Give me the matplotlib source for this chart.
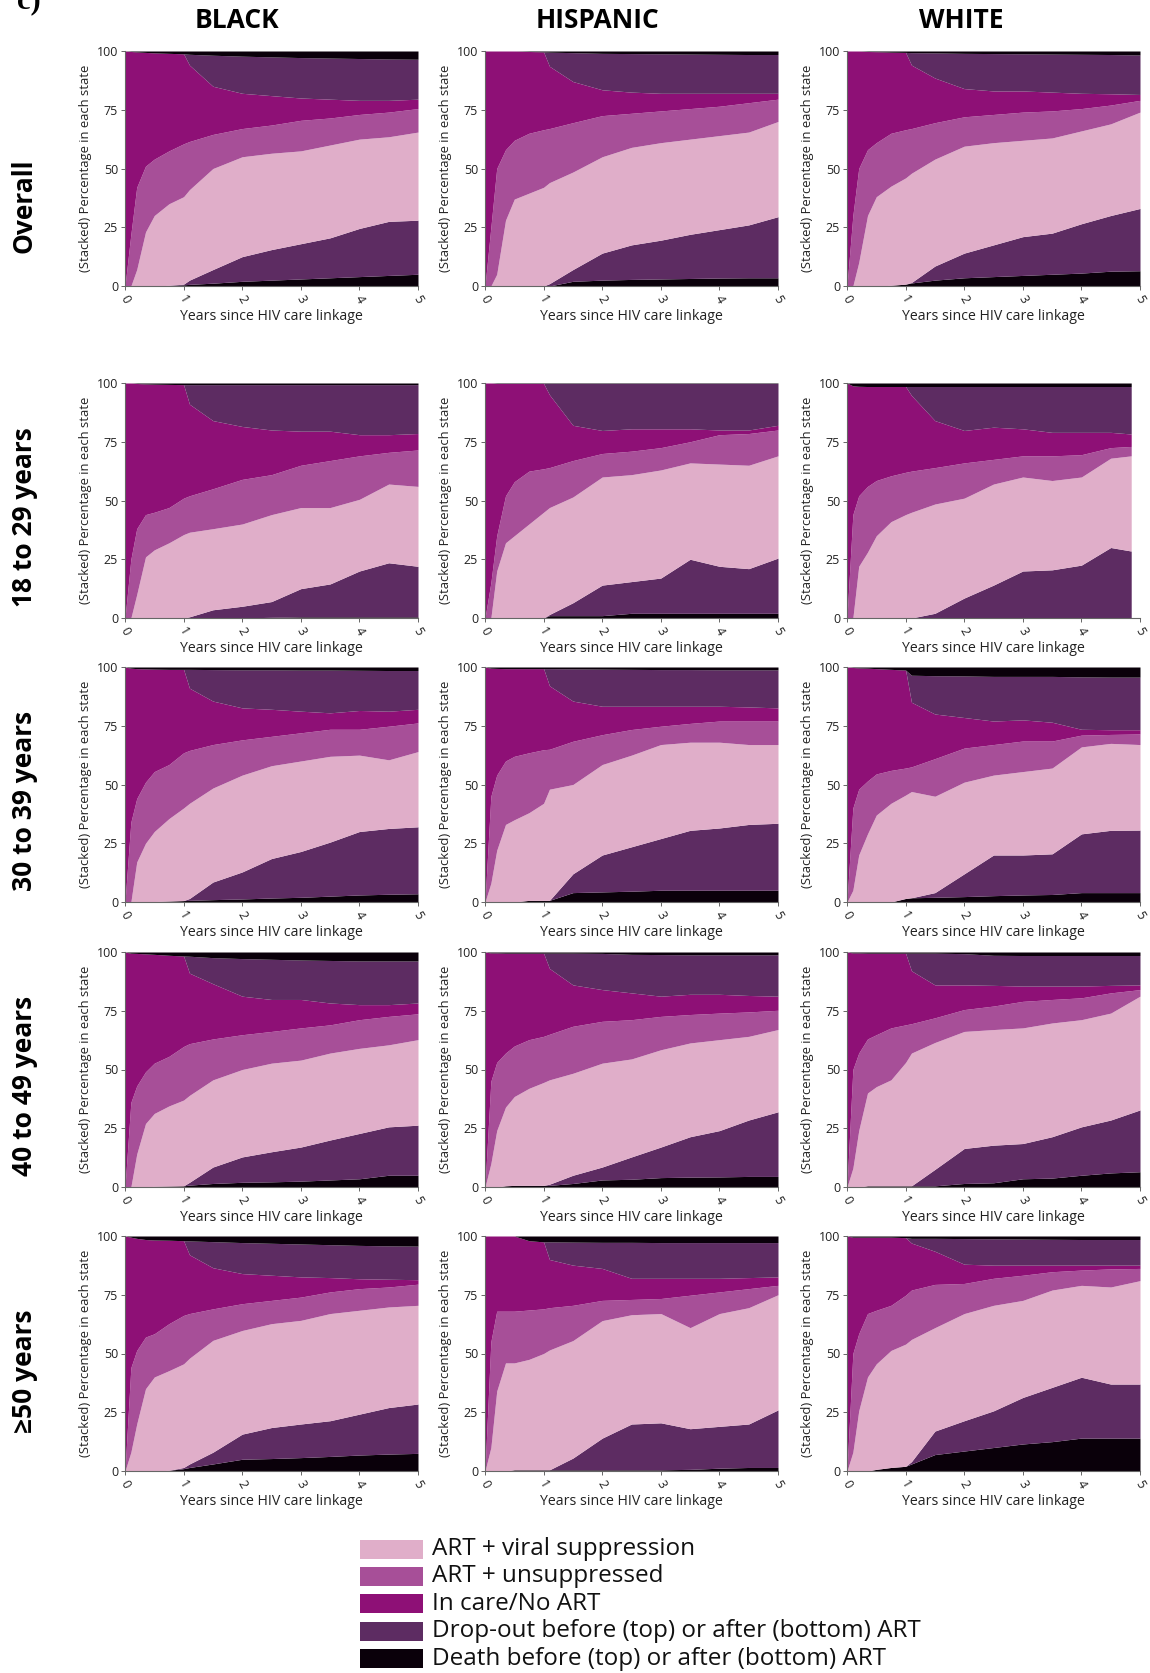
import numpy as np
import matplotlib
matplotlib.use("Agg")
import matplotlib.pyplot as plt
from matplotlib.patches import Rectangle

plt.rcParams['font.family'] = ['Open Sans', 'DejaVu Sans']

# follow-up times (years since linkage) at which the stacked shares are read
years = [0, 0.1, 0.2, 0.35, 0.5, 0.75, 1.0, 1.1, 1.5, 2.0, 2.5, 3.0, 3.5, 4.0, 4.5, 5.0]

groups = ["BLACK", "HISPANIC", "WHITE"]
ages = ["Overall", "18 to 29 years", "30 to 39 years", "40 to 49 years", "\u226550 years"]

# each list is the upper edge (stacked %) of a band, from the bottom up:
# death after ART, drop-out after ART, ART+suppressed, ART+unsuppressed,
# in care/no ART, drop-out before ART  (death before ART fills up to 100)
black_overall = dict(
    death_after=[0, 0, 0, 0, 0, 0.2, 0.5, 0.7, 1.2, 2, 2.5, 3, 3.5, 4, 4.5, 5],
    drop_after=[0, 0, 0, 0, 0, 0.3, 0.8, 2.5, 7, 12.5, 15.5, 18, 20.5, 24.5, 27.5, 28],
    art_supp=[0, 0, 7, 23, 30, 35, 38, 41, 50, 55, 56.5, 57.5, 60, 62.5, 63.5, 65.5],
    art_unsupp=[0, 22, 42, 51, 54, 57.5, 60.5, 61.5, 64.5, 67, 68.5, 70.5, 71.5, 73, 74, 75.5],
    no_art=[100, 100, 100, 100, 100, 100, 100, 94, 85, 82, 81, 80, 79.5, 79, 79, 79.5],
    drop_before=[100, 99.8, 99.6, 99.4, 99.2, 99, 98.8, 98.6, 98.2, 97.8, 97.5, 97.2, 97, 96.8, 96.6, 96.5],
)
hispanic_overall = dict(
    death_after=[0, 0, 0, 0, 0, 0, 0, 0, 2, 2.5, 2.8, 3, 3.2, 3.4, 3.5, 3.5],
    drop_after=[0, 0, 0, 0, 0, 0, 0, 1, 7, 14, 17.5, 19.5, 22, 24, 26, 29.5],
    art_supp=[0, 0, 5, 28, 37, 39.5, 42, 44, 48.5, 55, 59, 61, 62.5, 64, 65.5, 70],
    art_unsupp=[0, 25, 50, 58, 62, 65, 66.5, 67, 69.5, 72.5, 73.5, 74.5, 75.5, 76.5, 78, 79.5],
    no_art=[100, 100, 100, 100, 100, 100, 100, 93.5, 87, 83.5, 82.5, 82, 82, 82, 82, 82],
    drop_before=[100, 100, 100, 100, 100, 99.8, 99.6, 99.5, 99.3, 99, 98.9, 98.8, 98.7, 98.6, 98.5, 98.5],
)
white_overall = dict(
    death_after=[0, 0, 0, 0, 0, 0.3, 0.8, 1.3, 2.5, 3.5, 4, 4.5, 5, 5.5, 6.3, 6.5],
    drop_after=[0, 0, 0, 0, 0, 0.3, 0.8, 1.5, 8.5, 14, 17.5, 21, 22.5, 26.5, 30, 33],
    art_supp=[0, 0, 10, 30, 38, 42.5, 46, 48, 54, 59.5, 61, 62, 63, 66, 69, 74],
    art_unsupp=[0, 30, 50, 58, 61, 65, 66.5, 67, 69.5, 72, 73, 74, 74.5, 75.5, 77, 79],
    no_art=[100, 100, 100, 100, 100, 100, 100, 94, 88.5, 84, 83, 83, 82.5, 82, 81.8, 81.5],
    drop_before=[100, 100, 100, 99.8, 99.7, 99.5, 99.4, 99.3, 99.2, 99, 98.9, 98.8, 98.7, 98.6, 98.5, 98.3],
)

black_18 = dict(
    death_after=[0, 0, 0, 0, 0, 0, 0, 0, 0, 0, 0.3, 0.5, 0.5, 0.5, 0.5, 0.5],
    drop_after=[0, 0, 0, 0, 0, 0, 0, 0.5, 3.5, 5, 7, 12.5, 14.5, 20, 23.5, 22],
    art_supp=[0, 0, 10, 26, 29, 32, 35.5, 36.5, 38, 40, 44, 47, 47, 50.5, 57, 56],
    art_unsupp=[0, 25, 38, 44, 45, 47, 51, 52, 55, 59, 61, 65, 67, 69, 70.5, 71.5],
    no_art=[100, 100, 100, 100, 100, 100, 100, 91, 84, 81.5, 80, 79.5, 79.5, 78, 78, 78.5],
    drop_before=[100, 100, 99.8, 99.6, 99.5, 99.4, 99.3, 99.3, 99.3, 99.3, 99.3, 99.3, 99.3, 99.3, 99.3, 99.3],
)
hispanic_18 = dict(
    death_after=[0, 0, 0, 0, 0, 0, 0, 1, 1, 1, 2, 2, 2, 2, 2, 2],
    drop_after=[0, 0, 0, 0, 0, 0, 0, 1.5, 6.5, 14, 15.5, 17, 25, 22, 21, 25.5],
    art_supp=[0, 0, 20, 32, 35, 40, 45, 47, 51.5, 60, 61, 63, 66, 65.5, 65, 69],
    art_unsupp=[0, 15, 35, 52, 58, 62.5, 63.5, 64, 67, 70, 71, 72.5, 75, 78, 78.5, 80],
    no_art=[100, 100, 100, 100, 100, 100, 100, 95, 82, 79.8, 80.5, 80.5, 80.5, 80, 80, 82],
    drop_before=[100, 100, 99.8, 99.8, 99.8, 99.8, 99.8, 99.8, 99.8, 99.8, 99.8, 99.8, 99.8, 99.8, 99.8, 99.8],
)
white_18 = dict(
    death_after=[0] * 16,
    drop_after=[0, 0, 0, 0, 0, 0, 0, 0, 2, 8.5, 14, 20, 20.5, 22.5, 30, 28.5],
    art_supp=[0, 0, 22, 28, 35, 41, 44, 45, 48.5, 51, 57, 60, 58.5, 60, 68, 69],
    art_unsupp=[0, 44, 52, 56, 58.5, 60.5, 62, 62.5, 64, 66, 67.5, 69, 69, 69.5, 72.5, 73],
    no_art=[100, 100, 100, 100, 100, 100, 100, 94.7, 84, 79.8, 81.2, 80.5, 79, 79, 79, 78.3],
    drop_before=[100, 98.8, 98.6, 98.5, 98.5, 98.5, 98.5, 98.5, 98.5, 98.5, 98.5, 98.5, 98.5, 98.5, 98.5, 98.5],
)

black_30 = dict(
    death_after=[0, 0, 0, 0, 0.2, 0.4, 0.6, 0.7, 1, 1.3, 1.7, 2, 2.5, 3, 3.3, 3.5],
    drop_after=[0, 0, 0, 0, 0.2, 0.4, 0.6, 1.5, 8.5, 12.8, 18.5, 21.5, 25.5, 30, 31.3, 32],
    art_supp=[0, 0, 17, 25, 30, 35.5, 40, 42, 48.5, 54, 58, 60, 62, 62.5, 60.5, 64],
    art_unsupp=[0, 34, 44, 51, 55.5, 58.5, 63.5, 64.5, 67, 69, 70.5, 72, 73.5, 73.5, 74.8, 76.2],
    no_art=[100, 100, 100, 100, 100, 100, 100, 91, 85.5, 82.6, 82, 81.2, 80.5, 81.5, 81.2, 82],
    drop_before=[100, 99.5, 99.3, 99.2, 99.1, 99, 99, 99, 98.9, 98.8, 98.8, 98.7, 98.7, 98.6, 98.5, 98.5],
)
hispanic_30 = dict(
    death_after=[0, 0, 0, 0, 0, 0.7, 0.7, 0.7, 4, 4.3, 4.6, 5, 5, 5, 5, 5],
    drop_after=[0, 0, 0, 0, 0, 0.7, 0.7, 0.7, 12, 20, 23.5, 27, 30.5, 31.5, 33, 33.5],
    art_supp=[0, 8, 22, 33, 35, 38, 42, 48, 50, 58.5, 62.5, 67, 68, 68, 67, 67],
    art_unsupp=[0, 45, 54, 60, 62, 63.5, 64.8, 65, 68.4, 71.2, 73.4, 74.8, 76, 77, 77, 77],
    no_art=[100, 100, 100, 100, 100, 100, 100, 92, 85.5, 83.3, 83.3, 83.3, 83.3, 83.3, 83, 82.6],
    drop_before=[100, 99.5, 99.4, 99.3, 99.3, 99.3, 99.3, 99.3, 99.2, 99.1, 99, 98.9, 98.9, 98.8, 98.8, 98.8],
)
white_30 = dict(
    death_after=[0, 0, 0, 0, 0, 0, 1.5, 1.8, 2, 2.3, 2.7, 3, 3.2, 4, 4, 4],
    drop_after=[0, 0, 0, 0, 0, 0, 1.5, 1.8, 4, 12, 20, 20, 20.5, 29, 30.5, 30.6],
    art_supp=[0, 5, 20, 29, 37, 42, 45.5, 47, 45, 51, 54, 55.5, 57, 66, 67.5, 67],
    art_unsupp=[0, 40, 48, 51.5, 54.5, 56, 57, 57.5, 61, 65.5, 67, 68.5, 68.5, 71, 71.3, 71.5],
    no_art=[100, 100, 100, 100, 100, 100, 98.7, 85, 80, 78.5, 77, 77.5, 76.5, 73.5, 73.3, 73.3],
    drop_before=[100, 99.8, 99.6, 99.5, 99.3, 99, 98.7, 96.5, 96.3, 96.2, 96, 96, 96, 95.8, 95.7, 95.7],
)

black_40 = dict(
    death_after=[0, 0, 0, 0, 0.3, 0.4, 0.5, 0.8, 1.5, 2, 2.2, 2.5, 3, 3.5, 5, 5],
    drop_after=[0, 0, 0, 0, 0.3, 0.4, 0.5, 2, 8.5, 12.8, 15, 17, 20, 22.8, 25.6, 26.3],
    art_supp=[0, 0, 14, 27, 31.3, 34.5, 37, 39, 45.6, 50, 52.7, 54, 57, 59, 60.5, 62.7],
    art_unsupp=[0, 36, 43, 49, 52.7, 55.6, 59.8, 61, 63, 64.8, 66.2, 67.7, 69, 71.2, 72.6, 73.7],
    no_art=[100, 100, 100, 100, 100, 100, 98.3, 91, 86.5, 81.2, 79.8, 79.8, 78.3, 77.6, 77.6, 78.3],
    drop_before=[100, 99.5, 99.4, 99.2, 99, 98.6, 98.3, 98.2, 97.6, 97.2, 96.9, 96.6, 96.4, 96.2, 96.2, 96.2],
)
hispanic_40 = dict(
    death_after=[0, 0, 0, 0.5, 0.7, 0.7, 0.7, 0.7, 1.5, 3, 3.3, 4, 4.2, 4.3, 4.5, 4.5],
    drop_after=[0, 0, 0, 0.5, 0.7, 0.7, 0.7, 1.2, 5, 8.5, 12.8, 17, 21.4, 24, 28.5, 32],
    art_supp=[0, 10, 24, 34, 38.5, 42, 44.5, 45.6, 48.4, 52.7, 54.5, 58.4, 61.3, 62.7, 64.1, 67],
    art_unsupp=[0, 45, 53, 57, 60, 62.7, 64.1, 65, 68.4, 70.5, 71.2, 72.6, 73.4, 74, 74.5, 75.2],
    no_art=[100, 100, 100, 100, 100, 100, 99.5, 93, 86, 84, 82.6, 81.2, 82, 82, 81.5, 81.2],
    drop_before=[100, 99.6, 99.6, 99.5, 99.5, 99.5, 99.5, 99.5, 99.5, 99.4, 99, 98.9, 98.8, 98.8, 98.8, 98.8],
)
white_40 = dict(
    death_after=[0, 0, 0, 0.5, 0.5, 0.5, 0.5, 0.5, 0.5, 1.5, 1.8, 3.5, 3.8, 5, 6, 6.5],
    drop_after=[0, 0, 0, 0.5, 0.5, 0.5, 0.5, 0.5, 7.5, 16.4, 17.8, 18.5, 21.4, 25.6, 28.5, 32.8],
    art_supp=[0, 8, 24, 40, 42.7, 45.6, 53, 57, 61.5, 66.2, 67, 67.7, 69.8, 71.2, 74, 81.2],
    art_unsupp=[0, 50, 57, 63, 64.8, 67.7, 69, 69.5, 72, 75.5, 77, 79, 79.8, 80.5, 82.6, 84],
    no_art=[100, 100, 100, 100, 100, 100, 99.5, 92, 86, 86, 85.8, 85.5, 85.5, 85.5, 85.8, 86],
    drop_before=[100, 99.6, 99.6, 99.5, 99.5, 99.5, 99.5, 99.5, 99.5, 99.3, 98.6, 98.5, 98.5, 98.5, 98.5, 98.5],
)

black_50 = dict(
    death_after=[0, 0, 0, 0, 0, 0.3, 1, 1.5, 3, 5, 5.3, 5.7, 6.2, 6.8, 7.2, 7.5],
    drop_after=[0, 0, 0, 0, 0, 0.3, 1.5, 3, 8, 15.7, 18.5, 20, 21.4, 24.2, 27, 28.5],
    art_supp=[0, 8, 20, 35, 40, 42.7, 45.6, 48, 55.6, 59.8, 62.7, 64.1, 67, 68.4, 69.8, 70.5],
    art_unsupp=[0, 44, 51.3, 57, 58.4, 62.7, 66.2, 67, 69, 71.2, 72.6, 74, 76.2, 77.6, 78.3, 79.5],
    no_art=[100, 100, 100, 100, 100, 100, 98, 92, 86.5, 84, 83.3, 82.6, 82.3, 81.8, 81.6, 81.4],
    drop_before=[100, 99.5, 99, 98.5, 98.3, 98.2, 98, 97.9, 97.6, 97.2, 96.9, 96.6, 96.3, 96, 95.8, 95.7],
)
hispanic_50 = dict(
    death_after=[0, 0, 0, 0, 0.5, 0.5, 0.5, 0.5, 0.5, 0.5, 0.5, 0.5, 0.7, 1.2, 1.5, 1.5],
    drop_after=[0, 0, 0, 0, 0.5, 0.5, 0.5, 0.5, 5.5, 14, 20, 20.5, 18, 19, 20, 26],
    art_supp=[0, 10, 34, 46, 46, 47.5, 50, 51.5, 55.5, 64, 66.5, 67, 61, 67, 69.5, 75],
    art_unsupp=[0, 55, 68, 68, 68, 68.5, 69, 69.5, 70.5, 72.6, 73, 73.4, 74.8, 76.2, 77.6, 79],
    no_art=[100, 100, 100, 100, 100, 98, 97.5, 90, 87.6, 86.2, 82, 82, 82, 82, 82.3, 82.6],
    drop_before=[100, 100, 100, 100, 100, 98, 97.5, 97.5, 97.4, 97.3, 97.3, 97.2, 97.2, 97.2, 97.2, 97.2],
)
white_50 = dict(
    death_after=[0, 0, 0, 0, 0.7, 1.5, 2, 3, 7, 8.5, 10, 11.5, 12.5, 14, 14, 14],
    drop_after=[0, 0, 0, 0, 0.7, 1.5, 2, 4, 17, 21.4, 25.6, 31.3, 35.6, 39.9, 37, 37],
    art_supp=[0, 8, 25.6, 40, 45.6, 51.3, 54, 56, 61, 67, 70.5, 72.6, 77, 79, 78.3, 81],
    art_unsupp=[0, 50, 58.4, 67, 68.4, 70.5, 74.8, 77, 79.4, 79.8, 82, 83.3, 84.8, 85.5, 86, 86.2],
    no_art=[100, 100, 100, 100, 100, 99.5, 99.3, 97, 93.5, 88, 87.6, 87.6, 87.6, 87.6, 87.6, 87.6],
    drop_before=[100, 99.5, 99.5, 99.5, 99.5, 99.5, 99.3, 99, 99, 98.9, 98.8, 98.7, 98.6, 98.5, 98.5, 98.5],
)

panels = [
    [black_overall, hispanic_overall, white_overall],
    [black_18, hispanic_18, white_18],
    [black_30, hispanic_30, white_30],
    [black_40, hispanic_40, white_40],
    [black_50, hispanic_50, white_50],
]
# last follow-up time per panel (white 18-29 stops a little short of 5 years)
last_year = [
    [5, 5, 5],
    [5, 5, 4.85],
    [5, 5, 5],
    [5, 5, 5],
    [5, 5, 5],
]

c_supp = "#E0AEC9"
c_unsupp = "#A74F98"
c_noart = "#8E1076"
c_drop = "#5D2C62"
c_death = "#0A000A"

W, H = 1150, 1673
fig = plt.figure(figsize=(W / 100, H / 100), dpi=100)

col_left = [125, 485, 847]
row_top = [51, 383, 667, 952, 1236]
ax_w, ax_h = 293, 235

for r in range(5):
    for c in range(3):
        d = panels[r][c]
        ax = fig.add_axes([col_left[c] / W, 1 - (row_top[r] + ax_h) / H, ax_w / W, ax_h / H])
        t = np.array(years, dtype=float)
        t[-1] = last_year[r][c]
        b1 = np.array(d["death_after"])
        b2 = np.array(d["drop_after"])
        b3 = np.array(d["art_supp"])
        b4 = np.array(d["art_unsupp"])
        b6 = np.array(d["drop_before"])
        b5 = np.minimum(np.array(d["no_art"]), b6)
        kw = dict(linewidth=0, antialiased=True)
        ax.fill_between(t, 0, b1, color=c_death, **kw)
        ax.fill_between(t, b1, b2, color=c_drop, **kw)
        ax.fill_between(t, b2, b3, color=c_supp, **kw)
        ax.fill_between(t, b3, b4, color=c_unsupp, **kw)
        ax.fill_between(t, b4, b5, color=c_noart, **kw)
        ax.fill_between(t, b5, b6, color=c_drop, **kw)
        ax.fill_between(t, b6, 100, color=c_death, **kw)

        ax.set_xlim(0, 5)
        ax.set_ylim(0, 100)
        ax.set_xticks(range(6))
        ax.set_yticks([0, 25, 50, 75, 100])
        for s in ["top", "right"]:
            ax.spines[s].set_visible(False)
        for s in ["left", "bottom"]:
            ax.spines[s].set_color("#666666")
            ax.spines[s].set_linewidth(0.8)
        ax.tick_params(axis="both", length=3, width=0.7, color="#666666",
                       labelsize=9, pad=2, labelcolor="#222222")
        for lab in ax.get_xticklabels():
            lab.set_rotation(-60)
            lab.set_ha("center")
            lab.set_va("top")
        ax.set_xlabel("Years since HIV care linkage", fontsize=10.2, color="#222222")
        ax.xaxis.set_label_coords(0.5, -23 / ax_h)
        ax.set_ylabel("(Stacked) Percentage in each state", fontsize=9.4, color="#222222")
        ax.yaxis.set_label_coords(-33 / ax_w, 0.5)

# column and row headings
for x, name in zip([237, 598, 961], groups):
    fig.text(x / W, 1 - 21 / H, name, ha="center", va="center",
             fontsize=19, fontweight="bold")
for y, name in zip([206, 517, 801, 1086, 1371], ages):
    fig.text(24 / W, 1 - y / H, name, ha="center", va="center", rotation=90,
             fontsize=19, fontweight="bold")

fig.text(17 / W, 1 - 8 / H, "c)", ha="left", va="baseline", fontsize=22,
         family=["Liberation Serif", "DejaVu Serif"], fontweight="bold")

# legend
legend_items = [
    ("ART + viral suppression", c_supp),
    ("ART + unsuppressed", c_unsupp),
    ("In care/No ART", c_noart),
    ("Drop-out before (top) or after (bottom) ART", c_drop),
    ("Death before (top) or after (bottom) ART", c_death),
]
for i, (label, color) in enumerate(legend_items):
    yc = 1549 + i * 27.4
    fig.patches.append(Rectangle((360 / W, 1 - (yc + 9.5) / H), 63 / W, 19 / H,
                                 transform=fig.transFigure, facecolor=color,
                                 edgecolor="none"))
    fig.text(432 / W, 1 - yc / H, label, ha="left", va="center", fontsize=17.5,
             color="#111111")

fig.savefig("out.png", dpi=100)
